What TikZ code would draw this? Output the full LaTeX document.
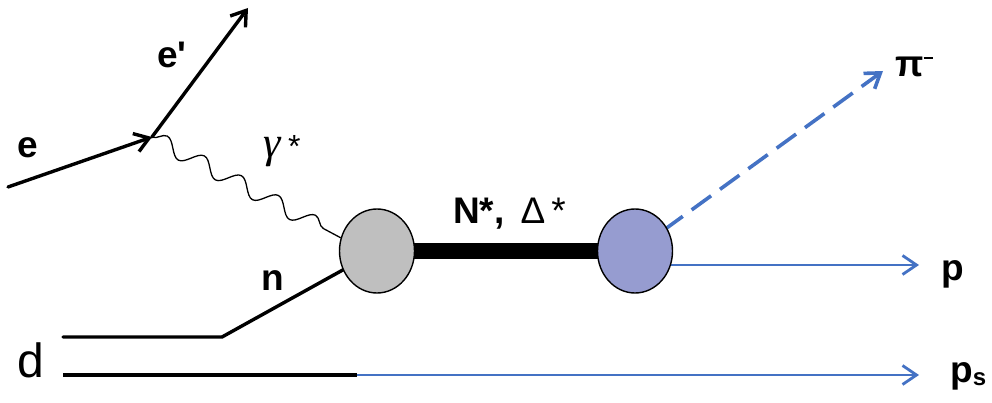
\documentclass[tikz,border=0pt]{standalone}
\usepackage{fontspec}
\setmainfont{Liberation Sans}
\newfontfamily\rawsans{Liberation Sans}
\newfontfamily\greekserif{Liberation Serif}
\usetikzlibrary{arrows.meta,shapes.geometric,decorations.pathmorphing,backgrounds,calc}
\definecolor{pblue}{HTML}{4472C4}
\definecolor{blobgrey}{HTML}{BFBFBF}
\definecolor{blobblue}{HTML}{969CD0}
\begin{document}
\begin{tikzpicture}[x=1pt,y=-1pt,
  lbl/.style={font=\fontsize{37}{42}\selectfont\bfseries, inner sep=0pt},
  blob/.style={ellipse, draw=black, line width=1.4pt, minimum width=75pt, minimum height=84pt, inner sep=0pt},
  tipbarb/.style={-{Straight Barb[length=14pt,width=19pt]}},
  fermion/.style={line width=3.4pt, line cap=round, line join=round},
  outline/.style={line width=2.8pt, draw=pblue},
  photon/.style={line width=1.3pt, decorate, decoration={snake, segment length=42pt, amplitude=8pt, post length=2pt}},
  ]
\useasboundingbox (0,0) rectangle (992,403);
% nodes
\node[blob, fill=blobgrey] (A) at (377,251) {};
\node[blob, fill=blobblue] (B) at (635,251) {};
\coordinate (ein) at (8,187);
\coordinate (v) at (152,137);
\coordinate (eout) at (248,8);
\coordinate (dtop) at (63,337);
\coordinate (kink) at (222,337);
\coordinate (dbot) at (63,375);
\coordinate (split) at (357,375);
\coordinate (psend) at (919,375);
\coordinate (pend) at (919,265);
\coordinate (piend) at (883,71);
% labels
\node[lbl, anchor=base west] (le) at (17,158) {e};
\node[lbl, anchor=base west] (lep) at (157,68) {e{\rawsans\bfseries '}};
\node[font=\fontsize{44}{50}\selectfont, inner sep=0pt] (lg) at (282,151) {{\greekserif\itshape γ}\,{\fontsize{32}{36}\selectfont *}};
\node[lbl, anchor=base west] (ln) at (261,290) {n};
\node[font=\fontsize{48}{52}\selectfont, inner sep=0pt, anchor=base west] (ld) at (17,377) {d};
\node[lbl, anchor=base west] (lN) at (453,223) {N*,\hspace{16pt}{\mdseries Δ\,*}};
\node[lbl, anchor=base west] (lpi) at (895,77) {π\raisebox{18pt}{\rule{9pt}{1.8pt}}};
\node[lbl, anchor=base west] (lp) at (941,280) {p};
\node[lbl, anchor=base west] (lps) at (950,382) {p\raisebox{-3pt}{\fontsize{24}{28}\selectfont\bfseries s}};
% connectors
\begin{pgfonlayer}{background}
\draw[line width=16pt] (A.center) -- (B.center);
\draw[fermion, tipbarb] (ein) -- (v);
\draw[fermion, tipbarb] (v) -- (eout);
\draw[photon] (v) -- (A.160);
\draw[fermion] (dtop) -- (kink) -- (A.center);
\draw[fermion, line cap=butt] (dbot) -- (split);
\draw[outline, tipbarb] (split) -- (psend);
\draw[outline, tipbarb] (B.center |- pend) -- (pend);
\draw[pblue, line width=3.6pt, dash pattern=on 24pt off 11pt, tipbarb] (B.center) -- (piend);
\end{pgfonlayer}
\end{tikzpicture}
\end{document}
